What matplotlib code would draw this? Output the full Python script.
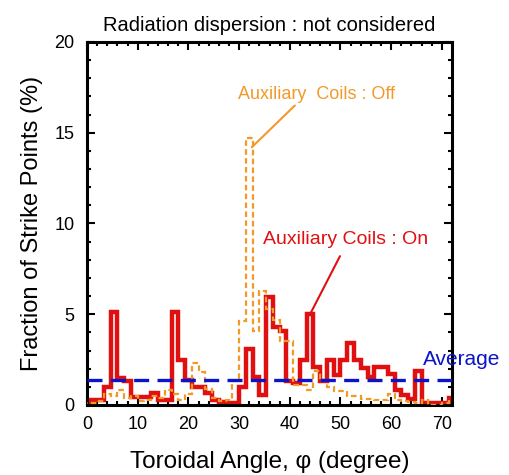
import matplotlib
matplotlib.use("Agg")
import matplotlib.pyplot as plt
import numpy as np
from matplotlib.ticker import MultipleLocator

plt.rcParams["font.family"] = ["Liberation Sans", "DejaVu Sans"]

# toroidal angle bins (degree), 54 bins per 72 deg period, centred on k*4/3
BIN_WIDTH = 4 / 3
bin_edges = (np.arange(56) - 0.5) * BIN_WIDTH

# fraction of strike points (%) per bin
coils_on = [
    0.0, 0.3, 0.3, 1.0, 5.1, 1.5, 1.3, 0.45, 0.45, 0.45,
    0.65, 0.3, 0.3, 5.1, 2.5, 1.4, 1.0, 1.0, 0.65, 0.3,
    0.15, 0.1, 0.1, 1.0, 3.1, 1.55, 0.55, 5.95, 4.3, 4.05,
    1.3, 1.2, 2.5, 5.0, 2.1, 1.3, 2.5, 1.65, 2.5, 3.4,
    2.5, 2.05, 1.55, 2.1, 2.1, 1.7, 0.8, 0.55, 0.35, 1.85,
    0.1, 0.1, 0.1, 0.1, 0.4,
]
coils_off = [
    0.1, 0.1, 0.2, 0.6, 0.5, 0.8, 0.4, 0.5, 0.2, 0.3,
    0.5, 0.4, 0.8, 0.6, 0.3, 0.6, 2.3, 1.8, 0.9, 0.4,
    0.2, 0.3, 1.3, 4.6, 14.7, 4.1, 6.3, 5.3, 4.7, 3.5,
    3.5, 1.1, 1.1, 0.8, 1.85, 1.3, 1.0, 0.75, 0.75, 0.5,
    0.5, 0.35, 0.35, 0.3, 0.3, 0.6, 0.25, 0.2, 0.15, 0.1,
    0.3, 0.0, 0.0, 0.1, 0.3,
]
average = 1.39

RED = "#e01010"
ORANGE = "#f29a28"
BLUE = "#0a14c8"

fig = plt.figure(figsize=(5.09, 4.75), dpi=100)
ax = fig.add_axes([0.171, 0.1474, 0.717, 0.7642])

ax.stairs(coils_off, bin_edges, color=ORANGE, lw=1.6, ls=(0, (2.5, 1.5)), zorder=3)
ax.stairs(coils_on, bin_edges, color=RED, lw=3.2, zorder=2)
ax.axhline(average, color=BLUE, lw=2.4, ls=(0, (4.5, 2.5)), zorder=4)

ax.set_xlim(0, 72)
ax.set_ylim(0, 20)
ax.xaxis.set_major_locator(MultipleLocator(10))
ax.xaxis.set_minor_locator(MultipleLocator(2))
ax.yaxis.set_major_locator(MultipleLocator(5))
ax.yaxis.set_minor_locator(MultipleLocator(1))
ax.tick_params(which="both", direction="in", top=True, right=True, labelsize=13, width=1.5)
ax.tick_params(which="major", length=6)
ax.tick_params(which="minor", length=3)
ax.tick_params(axis="x", which="major", pad=8)
ax.tick_params(axis="y", which="major", pad=9)
for spine in ax.spines.values():
    spine.set_linewidth(2.2)

ax.set_xlabel("Toroidal Angle, \u03c6 (degree)", fontsize=17.5, labelpad=13)
ax.set_ylabel("Fraction of Strike Points (%)", fontsize=17, labelpad=8)
ax.set_title("Radiation dispersion : not considered", fontsize=14.5, pad=8)

# labels with their leader lines
ax.text(29.8, 17.1, "Auxiliary  Coils : Off", color=ORANGE, fontsize=13, va="center")
ax.annotate("", xy=(32.5, 14.2), xytext=(41.0, 16.5),
            arrowprops=dict(arrowstyle="-", color=ORANGE, lw=1.5, shrinkA=0, shrinkB=0))
ax.text(34.7, 9.1, "Auxiliary Coils : On", color=RED, fontsize=14, va="center")
ax.annotate("", xy=(44.0, 5.0), xytext=(49.9, 8.2),
            arrowprops=dict(arrowstyle="-", color=RED, lw=1.5, shrinkA=0, shrinkB=0))
ax.text(66.3, 2.5, "Average", color=BLUE, fontsize=15, va="center", clip_on=False)

fig.savefig("out.png", dpi=100)
